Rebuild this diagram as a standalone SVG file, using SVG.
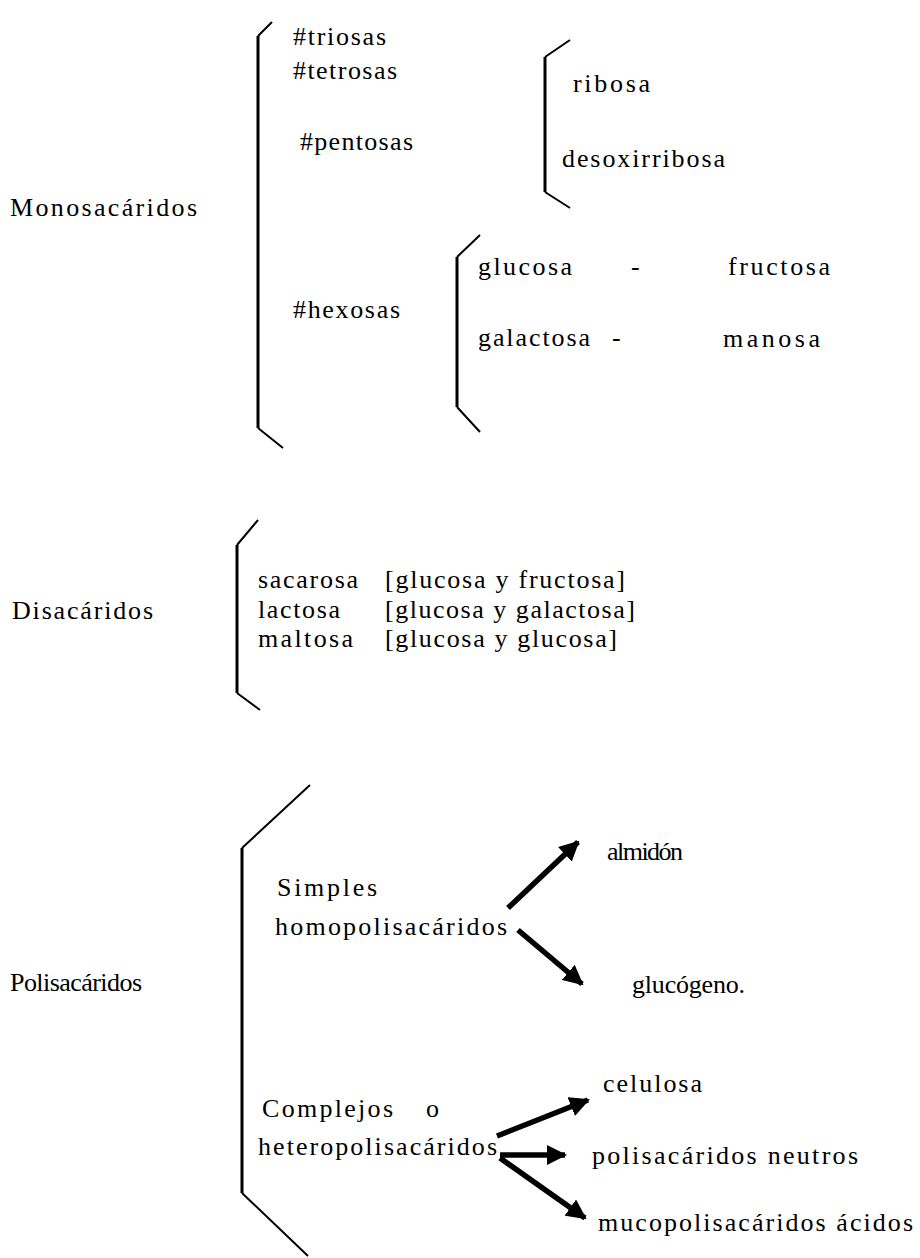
<svg xmlns="http://www.w3.org/2000/svg" width="920" height="1258" viewBox="0 0 920 1258">
<style>
text{font-family:"Liberation Serif","Times New Roman",serif;font-size:26px;fill:#000}
.br{fill:none;stroke:#000;stroke-width:3}
.bd{fill:none;stroke:#000;stroke-width:2}
.ar{stroke:#000;stroke-width:5.5;fill:none}
</style>
<defs>
<marker id="ah" viewBox="0 0 10 10" refX="9" refY="5" markerWidth="20" markerHeight="20" markerUnits="userSpaceOnUse" orient="auto">
<path d="M0,0 L10,5 L0,10 z" fill="#000"/>
</marker>
</defs>
<rect width="920" height="1258" fill="#fff"/>

<g id="monosacaridos">
<text x="10" y="216" textLength="187" lengthAdjust="spacing">Monosacáridos</text>
<line class="br" x1="258" y1="36" x2="258" y2="428"/>
<path class="bd" d="M258,36 L272,22 M258,428 L283,448"/>
<text x="293" y="45" textLength="93" lengthAdjust="spacing">#triosas</text>
<text x="293" y="79" textLength="104" lengthAdjust="spacing">#tetrosas</text>
<text x="300" y="150" textLength="113" lengthAdjust="spacing">#pentosas</text>
<text x="293" y="318" textLength="107" lengthAdjust="spacing">#hexosas</text>
</g>

<g id="pentosas">
<line class="br" x1="545" y1="57" x2="545" y2="192"/>
<path class="bd" d="M545,57 L570,40 M545,192 L570,208"/>
<text x="573" y="92" textLength="77" lengthAdjust="spacing">ribosa</text>
<text x="562" y="167" textLength="163" lengthAdjust="spacing">desoxirribosa</text>
</g>

<g id="hexosas">
<line class="br" x1="457" y1="257" x2="457" y2="407"/>
<path class="bd" d="M457,257 L480,235 M457,407 L480,432"/>
<text x="478" y="275" textLength="94" lengthAdjust="spacing">glucosa</text>
<text x="631" y="275">-</text>
<text x="728" y="275" textLength="102" lengthAdjust="spacing">fructosa</text>
<text x="478" y="346" textLength="112" lengthAdjust="spacing">galactosa</text>
<text x="612" y="346">-</text>
<text x="723" y="347" textLength="97" lengthAdjust="spacing">manosa</text>
</g>

<g id="disacaridos">
<text x="12" y="619" textLength="141" lengthAdjust="spacing">Disacáridos</text>
<line class="br" x1="237" y1="545" x2="237" y2="693"/>
<path class="bd" d="M237,545 L258,520 M237,693 L260,710"/>
<text x="258" y="588" textLength="100" lengthAdjust="spacing">sacarosa</text>
<text x="385" y="588" textLength="240" lengthAdjust="spacing">[glucosa y fructosa]</text>
<text x="258" y="618" textLength="82" lengthAdjust="spacing">lactosa</text>
<text x="385" y="618" textLength="250" lengthAdjust="spacing">[glucosa y galactosa]</text>
<text x="258" y="647" textLength="95" lengthAdjust="spacing">maltosa</text>
<text x="385" y="647" textLength="232" lengthAdjust="spacing">[glucosa y glucosa]</text>
</g>

<g id="polisacaridos">
<text x="10" y="991" textLength="132" lengthAdjust="spacing">Polisacáridos</text>
<line class="br" x1="242" y1="848" x2="242" y2="1193"/>
<path class="bd" d="M242,848 L310,785 M242,1193 L308,1256"/>
</g>

<g id="simples">
<text x="277" y="896" textLength="100" lengthAdjust="spacing">Simples</text>
<text x="275" y="935" textLength="232" lengthAdjust="spacing">homopolisacáridos</text>
</g>

<g id="almidon"><text x="607" y="860" textLength="76" lengthAdjust="spacing">almidón</text></g>
<g id="glucogeno"><text x="632" y="993" textLength="113" lengthAdjust="spacing">glucógeno.</text></g>

<g id="complejos">
<text x="262" y="1117" textLength="131" lengthAdjust="spacing">Complejos</text>
<text x="426" y="1117">o</text>
<text x="258" y="1155" textLength="239" lengthAdjust="spacing">heteropolisacáridos</text>
</g>

<g id="celulosa"><text x="603" y="1092" textLength="99" lengthAdjust="spacing">celulosa</text></g>
<g id="neutros"><text x="592" y="1164" textLength="266" lengthAdjust="spacing">polisacáridos neutros</text></g>
<g id="acidos"><text x="598" y="1231" textLength="315" lengthAdjust="spacing">mucopolisacáridos ácidos</text></g>

<g id="connectors">
<line class="ar" x1="508" y1="908" x2="578" y2="842" marker-end="url(#ah)"/>
<line class="ar" x1="518" y1="930" x2="582" y2="984" marker-end="url(#ah)"/>
<line class="ar" x1="497" y1="1136" x2="588" y2="1100" marker-end="url(#ah)"/>
<line class="ar" x1="500" y1="1155" x2="565" y2="1155" marker-end="url(#ah)"/>
<line class="ar" x1="500" y1="1158" x2="585" y2="1218" marker-end="url(#ah)"/>
</g>
</svg>
